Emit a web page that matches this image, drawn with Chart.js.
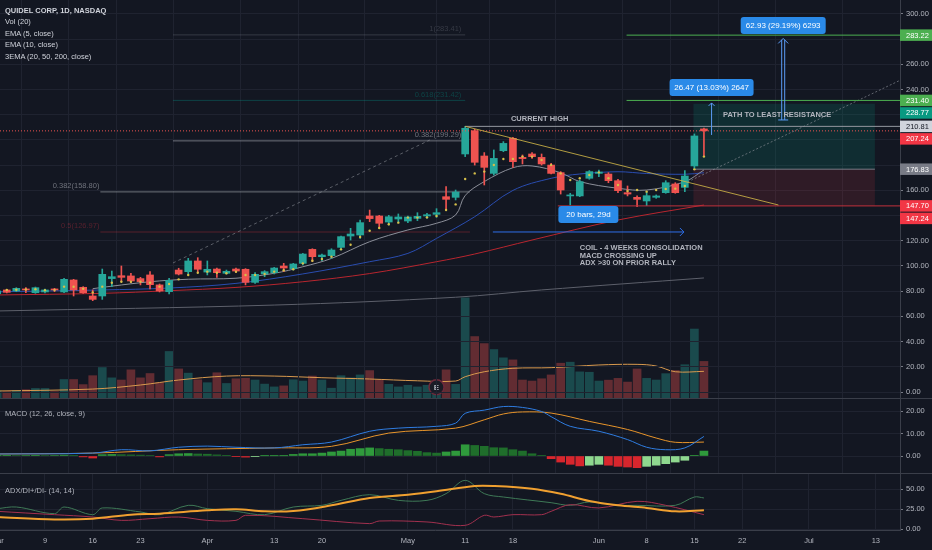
<!DOCTYPE html>
<html>
<head>
<meta charset="utf-8">
<script src="https://cdn.jsdelivr.net/npm/chart.js@4.4.1/dist/chart.umd.min.js"></script>
<style>
  html, body { margin: 0; padding: 0; background: #131722; overflow: hidden; }
  #wrap { position: relative; width: 932px; height: 550px; overflow: hidden; background: #131722; }
  canvas { position: absolute; left: -30px; }
  .sep { position: absolute; left: 0; width: 932px; height: 1px; background: #3a3e49; }
  .label { position: absolute; left: 5px; color: #b2b5be; font: 7.5px 'Liberation Sans', 'DejaVu Sans', sans-serif; line-height: 11.4px; white-space: nowrap; }
  .label.main { color: #d1d4dc; }
</style>
</head>
<body>
<div id="wrap">
  <canvas id="volChart" width="962" height="398" style="top:0"></canvas>
  <canvas id="priceChart" width="962" height="398" style="top:0"></canvas>
  <canvas id="macdChart" width="962" height="75" style="top:398px"></canvas>
  <canvas id="adxChart" width="962" height="77" style="top:473px"></canvas>
  <div class="sep" style="top:398px"></div>
  <div class="sep" style="top:473px"></div>
  <div class="label main" style="top:5px"><b>QUIDEL CORP, 1D, NASDAQ</b><br>Vol (20)<br>EMA (5, close)<br>EMA (10, close)<br>3EMA (20, 50, 200, close)</div>
  <div class="label" style="top:408px">MACD (12, 26, close, 9)</div>
  <div class="label" style="top:485px">ADX/DI+/DI- (14, 14)</div>
</div>
<script>
// Time axis (trading-day index -> label)
const tickIdx  = [0, 5, 10, 15, 22, 29, 34, 43, 49, 54, 63, 68, 73, 78, 85, 92];
const tickText = ["Mar", "9", "16", "23", "Apr", "13", "20", "May", "11", "18", "Jun", "8", "15", "22", "Jul", "13"];

// Daily candles, Mar 2 - Jun 16 2020
const openP = [78.0, 81.0, 80.2, 81.8, 78.8, 79.4, 81.8, 79.4, 88.9, 83.1,
  76.2, 76.2, 90.0, 92.3, 92.1, 90.0, 92.9, 85.0, 79.6, 96.8,
  95.5, 104.0, 95.2, 97.6, 94.2, 97.6, 97.4, 87.0, 93.7, 94.7,
  100.0, 97.9, 102.1, 113.2, 107.4, 108.2, 114.8, 123.8, 124.6, 139.7,
  139.7, 134.9, 137.3, 135.7, 137.8, 139.7, 141.0, 155.0, 154.5, 188.9,
  207.4, 187.3, 173.5, 191.5, 201.3, 186.2, 188.9, 186.2, 180.1, 174.1,
  155.6, 155.6, 169.6, 173.5, 173.0, 167.7, 158.2, 154.5, 151.6, 154.5,
  158.2, 165.1, 162.4, 179.4, 208.8];
const highP = [81.0, 81.5, 82.8, 82.8, 83.3, 81.7, 82.3, 90.2, 89.4, 83.6,
  81.0, 97.6, 96.0, 100.0, 94.2, 91.0, 95.5, 85.7, 90.2, 98.2,
  106.1, 106.6, 104.0, 98.4, 96.8, 98.4, 97.9, 94.7, 96.3, 98.9,
  102.1, 102.1, 110.0, 113.7, 109.5, 113.7, 123.8, 129.9, 136.5, 144.4,
  140.2, 140.2, 141.3, 139.7, 142.3, 141.8, 145.5, 163.0, 160.3, 210.81,
  208.5, 190.0, 192.1, 198.7, 202.1, 188.1, 190.0, 188.9, 181.5, 174.9,
  157.7, 168.2, 175.7, 176.2, 174.1, 168.8, 163.5, 155.6, 159.0, 156.4,
  167.7, 166.1, 175.7, 204.8, 209.5];
const lowP = [77.0, 78.6, 79.6, 78.8, 78.3, 78.6, 79.6, 78.8, 76.2, 78.3,
  72.5, 73.5, 83.6, 87.6, 86.8, 85.0, 81.8, 79.4, 77.8, 92.9,
  92.9, 94.7, 92.9, 91.0, 93.6, 94.7, 85.0, 86.2, 91.5, 93.7,
  95.5, 96.8, 100.8, 103.4, 104.2, 106.1, 112.7, 120.6, 121.9, 135.2,
  129.9, 132.5, 134.4, 134.4, 136.0, 137.8, 138.6, 144.4, 152.4, 186.8,
  180.1, 164.3, 172.2, 190.7, 178.3, 181.0, 185.4, 180.1, 173.0, 157.1,
  148.4, 155.0, 168.8, 170.9, 166.1, 158.2, 155.6, 147.1, 147.9, 153.7,
  157.7, 157.7, 159.0, 177.5, 186.8];
const closeP = [80.2, 79.1, 82.3, 81.0, 82.8, 81.0, 81.0, 89.4, 81.0, 78.8,
  73.5, 93.4, 91.5, 91.0, 88.1, 87.6, 85.2, 80.2, 88.6, 93.6,
  104.0, 97.4, 97.4, 94.7, 95.8, 96.0, 87.0, 93.4, 95.5, 98.4,
  98.4, 101.6, 109.5, 107.4, 108.7, 112.7, 123.3, 125.4, 134.4, 137.6,
  133.9, 139.1, 138.9, 138.9, 139.4, 140.7, 142.3, 152.9, 158.7, 209.3,
  182.3, 178.3, 185.4, 197.3, 182.8, 185.2, 186.8, 181.0, 173.5, 160.3,
  156.4, 166.9, 174.9, 174.6, 167.7, 159.8, 157.1, 152.9, 155.8, 155.6,
  166.1, 158.2, 171.4, 203.2, 207.24];

// Volume (scale units as drawn) and its 20-day average
const volume = [2, 1.5, 2.5, 3, 4, 4, 1.5, 11, 11, 7,
  14, 20.4, 12.3, 10.6, 18.6, 12.3, 15.7, 8.5, 33, 19.3,
  16, 10.8, 8.5, 16.3, 7.9, 11.6, 12, 10.6, 7.4, 5.2,
  6, 10.8, 9.8, 13.7, 10.6, 4.2, 14, 12.3, 14.6, 18,
  10.8, 7.2, 5.2, 6.5, 5.2, 6.5, 7.8, 18.6, 7.2, 75,
  44.7, 39.2, 34.5, 28, 26.4, 10.6, 9.8, 11.6, 14.6, 23.8,
  24.6, 17, 16.7, 9.8, 10.5, 11.9, 9, 19.3, 11.9, 10.6,
  15.6, 18.1, 22.6, 50.6, 25.2];
const volMA = [[0, 2], [10, 3.5], [15, 6.7], [19, 10.6], [24, 13.7], [29, 13.7], [34, 12.4],
  [39, 11.4], [44, 10], [48, 9.8], [49, 13.2], [51, 17.1], [54, 19.8], [58, 20.3],
  [63, 22.4], [67, 22.9], [69, 21.6], [71, 17.1], [74, 17.4]];

// Moving averages
const ema5 = [80, 81, 81.2, 81.3, 81.5, 80.8, 81.0, 83.6, 83.5, 82,
  79, 83.6, 86.7, 87.5, 87.5, 87.5, 86.7, 83.6, 85.7, 89.4,
  92.9, 94.7, 95.5, 94.7, 94.2, 95.5, 92.9, 92.8, 93.7, 95.5,
  96.6, 97.4, 102.1, 104.2, 105.5, 107.4, 113.2, 116.9, 123.0, 128.0,
  130.2, 133.1, 134.4, 138.4, 138.4, 138.6, 139.7, 144.4, 148.9, 169.0,
  173.5, 174.9, 180.1, 184.9, 184.9, 186.8, 186.8, 184.1, 180.1, 173.5,
  168.3, 169.6, 172.2, 174.3, 169.6, 164.3, 159.5, 160.3, 159.0, 160.3,
  161.1, 161.4, 163.5, 176.7, 186.8];
const ema10 = [[10, 82], [12, 84], [16, 87.5], [20, 89.5], [25, 90.3], [29, 94.2], [32, 99.4],
  [35, 106], [39, 119.3], [43, 128.6], [46, 133.9], [48, 140.5], [49, 156], [51, 167],
  [54, 178], [56, 179.4], [59, 174], [61, 167], [65, 161.7], [68, 160.3], [72, 166.9], [74, 176.2]];
const ema20 = [[0, 79.5], [11, 81], [18, 82.5], [25, 86.2], [32, 93.7], [39, 103.4], [43, 110],
  [46, 121.9], [50, 139.1], [54, 160], [58, 169.6], [61, 173], [65, 174.8], [68, 173.4],
  [72, 172.8], [74, 174]];
const ema50 = [[0, 77], [11, 78.3], [18, 80.4], [25, 83], [32, 87.5], [39, 94], [46, 103.4],
  [50, 109.5], [56, 120.6], [65, 136.5], [74, 148.4]];
const ema200 = [[0, 64.3], [29, 69], [48, 75.2], [57, 81], [74, 90.5]];

// MACD (12, 26, 9)
const macdLine = [[0, 0.9], [10, 1.3], [13, 2.8], [16, 2.3], [19, 3.9], [22, 4.4], [25, 3.9],
  [29, 3.6], [32, 5.0], [35, 6.2], [39, 11.0], [42, 12.4], [46, 13.2], [48, 14.6], [49, 19.0],
  [51, 20.4], [53, 22.0], [55, 21.6], [57, 19.8], [58, 17.5], [60, 13.2], [63, 11.0],
  [66, 7.3], [68, 3.9], [70, 2.8], [72, 3.6], [74, 8.7]];
const signalLine = [[0, 0.9], [10, 1.3], [19, 2.8], [29, 3.6], [35, 4.3], [41, 10.2], [48, 12.4],
  [51, 16.1], [53, 18.7], [55, 19.6], [58, 19.1], [62, 15.4], [66, 11.8], [69, 8.0],
  [71, 6.1], [74, 6.2]];
const macdHist = [0.3, 0.3, 0.2, 0.2, 0.3, 0.2, 0.2, 0.4, 0.3, -0.4,
  -0.9, 0.6, 0.7, 0.6, 0.5, 0.4, 0.2, -0.4, 0.6, 1.0,
  1.1, 0.9, 0.8, 0.5, 0.3, -0.3, -0.5, -0.3, 0.1, 0.1,
  0.1, 0.7, 1.0, 1.0, 1.3, 1.8, 2.2, 3.0, 3.3, 3.6,
  3.3, 3.0, 2.8, 2.4, 2.1, 1.5, 1.3, 1.8, 2.2, 5.0,
  4.7, 4.3, 3.7, 3.6, 2.8, 2.2, 1.0, 0.3, -1.2, -2.7,
  -3.7, -4.4, -4.1, -3.7, -4.1, -4.6, -4.9, -5.2, -4.6, -4.1,
  -3.4, -2.7, -1.9, 0.3, 2.2];

// ADX / DI+ / DI- (14, 14)
const adx = [[0, 15], [6, 12], [10, 12.9], [14, 17.9], [17, 19.2], [22, 23.3], [25, 24.6],
  [28, 22.1], [31, 22.5], [35, 29.6], [39, 38.8], [43, 42.9], [46, 47.1], [50, 53.8],
  [52, 53.8], [56, 50.4], [59, 44], [62, 35], [65, 29.6], [68, 26.3], [71, 22.1], [74, 23.3]];
const diPlus = [[0, 25.4], [2, 27.5], [6, 19.2], [7, 27.5], [10, 17.9], [11, 26.3], [15, 21.3],
  [17, 17.9], [20, 29.6], [22, 25.4], [25, 22.1], [28, 17.9], [31, 27.5], [34, 29.6],
  [36, 35.8], [39, 42.9], [42, 35.8], [45, 35.8], [47, 44.2], [49, 60.8], [51, 44.2],
  [53, 40], [58, 32.9], [60, 29.6], [62, 33.8], [65, 29.6], [67, 29.6], [71, 29.6],
  [73, 40], [74, 38.8]];
const diMinus = [[0, 22.1], [6, 17.9], [10, 15], [13, 10.8], [16, 12.9], [19, 15], [22, 10.8],
  [25, 10.8], [26, 17.1], [32, 12.9], [39, 6.7], [40, 10], [45, 8.8], [49, 4.6], [51, 17.1],
  [52, 15], [54, 17.9], [57, 17.9], [58, 22.1], [60, 30.4], [63, 26.3], [67, 34.6],
  [70, 29.6], [74, 17.9]];

// Price tags on the right axis: value, background, text colour
const priceTags = [
  [283.22, "#4caf50", "#ffffff"],
  [231.40, "#4caf50", "#ffffff"],
  [228.77, "#089981", "#ffffff"],
  [210.81, "#d1d4dc", "#131722"],
  [207.24, "#f23645", "#ffffff"],
  [176.83, "#787b86", "#ffffff"],
  [147.70, "#f23645", "#ffffff"],
  [147.24, "#f23645", "#ffffff"],
];

// Drawings (index, price)
const longPos = { from: 72.9, to: 91.9, entry: 176.83, target: 228.77, stop: 147.70 };
const highLevel = { from: 49, price: 210.81 };
const lastClose = 207.24;
const targetLines = { from: 65.9, prices: [283.22, 231.40] };
const stopLine = { from: 58.7, price: 147.70 };
const trendLine = [[49, 210.81], [81.8, 148.4]];
const fibDiag = [[18.4, 102.4], [45.3, 200]];
const projLine = [[72.3, 166.7], [94.6, 247.6]];
const fibRight = [
  [283.41, "1(283.41)", "rgba(120,123,134,0.35)"],
  [231.42, "0.618(231.42)", "rgba(0,150,136,0.35)"],
  [199.29, "0.382(199.29)", "rgba(150,153,161,0.7)"],
];
const fibLeft = [
  [158.80, "0.382(158.80)", "rgba(150,153,161,0.7)"],
  [126.97, "0.5(126.97)", "rgba(242,54,69,0.3)"],
];

// ---------------------------------------------------------------
const UP = "#26a69a", DOWN = "#ef5350";
const GRID = "#1f2330";
const AXIS_TEXT = "#b2b5be";
const FONT = "'Liberation Sans', 'DejaVu Sans', sans-serif";
Chart.defaults.font.family = FONT;
Chart.defaults.font.size = 7.5;

const X_MIN = -2.85, X_MAX = 94.53;
const PRICE_MIN = -4.76, PRICE_MAX = 311.1, PRICE_H = 398;

const isUp = i => closeP[i] >= openP[i];

// stack the right-axis tags so they don't overlap, hide ticks behind them
const TAG_H = 12.5;
const tagUnits = TAG_H * (PRICE_MAX - PRICE_MIN) / PRICE_H;
const tagPos = [];
priceTags.forEach((t, k) => {
  let v = t[0];
  if (k > 0 && tagPos[k - 1] - v < tagUnits) v = tagPos[k - 1] - tagUnits;
  tagPos.push(v);
});
const tickHidden = v => tagPos.some(p => Math.abs(p - v) < tagUnits * 0.68);

function xScale(showLabels) {
  return {
    type: "linear",
    min: X_MIN,
    max: X_MAX,
    offset: false,
    grid: { color: GRID, drawTicks: false },
    border: { display: showLabels, color: "#3a3e49" },
    afterBuildTicks: s => { s.ticks = tickIdx.map(v => ({ value: v })); },
    ticks: {
      display: showLabels,
      autoSkip: false,
      maxRotation: 0,
      color: AXIS_TEXT,
      padding: 6,
      callback: v => tickText[tickIdx.indexOf(v)],
    },
    afterFit: s => {
      s.height = showLabels ? 20 : 0;
      s.paddingLeft = 0;
      s.paddingRight = 0;
    },
  };
}

function yScale(min, max, step, fmt) {
  return {
    position: "right",
    min: min,
    max: max,
    grid: { color: GRID, tickLength: 3, tickColor: "#787b86" },
    border: { color: "#3a3e49" },
    ticks: {
      stepSize: step,
      includeBounds: false,
      color: AXIS_TEXT,
      padding: 3,
      callback: fmt || (v => v.toFixed(2)),
    },
    afterFit: s => {
      s.width = 32;
      // the pane edges are the value edges, no label overhang
      s.paddingTop = 0;
      s.paddingBottom = 0;
    },
  };
}

const pairs = arr => arr.map(([x, y]) => ({ x, y }));
const baseOptions = {
  responsive: false,
  animation: false,
  events: [],
  layout: { autoPadding: false },
  plugins: { legend: { display: false }, tooltip: { enabled: false } },
};

function lineDs(arr, color, width, order) {
  return {
    type: "line",
    data: pairs(arr),
    borderColor: color,
    borderWidth: width,
    pointRadius: 0,
    tension: 0.35,
    order: order,
  };
}

// ---- helpers for drawings ----
function arrowHead(ctx, x, y, dir, size) {
  ctx.beginPath();
  if (dir === "up") {
    ctx.moveTo(x - size, y + size); ctx.lineTo(x, y); ctx.lineTo(x + size, y + size);
  } else {
    ctx.moveTo(x - size, y - size); ctx.lineTo(x, y); ctx.lineTo(x - size, y + size);
  }
  ctx.stroke();
}

function blueBox(ctx, cx, cy, w, text) {
  const h = 17;
  ctx.fillStyle = "#2a8ae8";
  ctx.beginPath();
  ctx.roundRect(cx - w / 2, cy - h / 2, w, h, 3);
  ctx.fill();
  ctx.fillStyle = "#ffffff";
  ctx.font = "8px " + FONT;
  ctx.textAlign = "center";
  ctx.textBaseline = "middle";
  ctx.fillText(text, cx, cy + 0.5);
}

const drawings = {
  id: "drawings",
  beforeDatasetsDraw(chart) {
    const ctx = chart.ctx, a = chart.chartArea;
    const X = v => chart.scales.x.getPixelForValue(v);
    const Y = v => chart.scales.y.getPixelForValue(v);
    ctx.save();
    ctx.beginPath(); ctx.rect(a.left, a.top, a.width, a.height); ctx.clip();

    // long position zones
    const x0 = X(longPos.from), x1 = X(longPos.to);
    ctx.fillStyle = "rgba(8,153,129,0.17)";
    ctx.fillRect(x0, Y(longPos.target), x1 - x0, Y(longPos.entry) - Y(longPos.target));
    ctx.fillStyle = "rgba(242,54,69,0.13)";
    ctx.fillRect(x0, Y(longPos.entry), x1 - x0, Y(longPos.stop) - Y(longPos.entry));
    ctx.strokeStyle = "#787b86"; ctx.lineWidth = 1;
    ctx.beginPath(); ctx.moveTo(x0, Y(longPos.entry)); ctx.lineTo(x1, Y(longPos.entry)); ctx.stroke();

    // fib levels
    ctx.font = "7.5px " + FONT;
    ctx.textBaseline = "bottom";
    fibRight.forEach(([p, label, col]) => {
      ctx.strokeStyle = col;
      ctx.beginPath(); ctx.moveTo(X(18.4), Y(p)); ctx.lineTo(X(49), Y(p)); ctx.stroke();
      ctx.fillStyle = col; ctx.textAlign = "right";
      ctx.fillText(label, X(48.6), Y(p) - 2);
    });
    fibLeft.forEach(([p, label, col]) => {
      ctx.strokeStyle = col;
      ctx.beginPath(); ctx.moveTo(X(10.8), Y(p)); ctx.lineTo(X(49.5), Y(p)); ctx.stroke();
      ctx.fillStyle = col; ctx.textAlign = "right";
      ctx.fillText(label, X(10.7), Y(p) - 2);
    });
    ctx.setLineDash([3, 3]);
    ctx.strokeStyle = "rgba(150,153,161,0.55)";
    ctx.beginPath(); ctx.moveTo(X(fibDiag[0][0]), Y(fibDiag[0][1])); ctx.lineTo(X(fibDiag[1][0]), Y(fibDiag[1][1])); ctx.stroke();
    ctx.setLineDash([]);
    ctx.restore();
  },
  afterDatasetsDraw(chart) {
    const ctx = chart.ctx, a = chart.chartArea;
    const X = v => chart.scales.x.getPixelForValue(v);
    const Y = v => chart.scales.y.getPixelForValue(v);
    ctx.save();
    ctx.beginPath(); ctx.rect(a.left, a.top, a.width, a.height); ctx.clip();
    ctx.lineWidth = 1;

    // last price line (dotted)
    ctx.setLineDash([1, 2]);
    ctx.strokeStyle = "#ef5350";
    ctx.beginPath(); ctx.moveTo(a.left, Y(lastClose)); ctx.lineTo(a.right, Y(lastClose)); ctx.stroke();
    // projection
    ctx.setLineDash([2, 2]);
    ctx.strokeStyle = "rgba(150,153,161,0.6)";
    ctx.beginPath(); ctx.moveTo(X(projLine[0][0]), Y(projLine[0][1])); ctx.lineTo(X(projLine[1][0]), Y(projLine[1][1])); ctx.stroke();
    ctx.setLineDash([]);

    // current high
    ctx.strokeStyle = "#9598a1";
    ctx.beginPath(); ctx.moveTo(X(highLevel.from), Y(highLevel.price)); ctx.lineTo(a.right, Y(highLevel.price)); ctx.stroke();
    // targets
    ctx.strokeStyle = "#4caf50";
    targetLines.prices.forEach(p => {
      ctx.beginPath(); ctx.moveTo(X(targetLines.from), Y(p)); ctx.lineTo(a.right, Y(p)); ctx.stroke();
    });
    // stop
    ctx.strokeStyle = "#c2303c";
    ctx.beginPath(); ctx.moveTo(X(stopLine.from), Y(stopLine.price)); ctx.lineTo(a.right, Y(stopLine.price)); ctx.stroke();
    // descending trend line
    ctx.strokeStyle = "rgba(206,180,70,0.85)";
    ctx.beginPath(); ctx.moveTo(X(trendLine[0][0]), Y(trendLine[0][1])); ctx.lineTo(X(trendLine[1][0]), Y(trendLine[1][1])); ctx.stroke();

    // measurement arrows
    ctx.strokeStyle = "#5b9cf6";
    let ax = X(74.8);
    ctx.beginPath(); ctx.moveTo(ax, Y(204)); ctx.lineTo(ax, Y(229.4)); ctx.stroke();
    arrowHead(ctx, ax, Y(229.4), "up", 3);
    ax = X(82.3);
    ctx.lineWidth = 1;
    ctx.beginPath();
    ctx.moveTo(ax - 1.5, Y(215.9)); ctx.lineTo(ax - 1.5, Y(279.4));
    ctx.moveTo(ax + 1.5, Y(215.9)); ctx.lineTo(ax + 1.5, Y(279.4));
    ctx.moveTo(ax - 5, Y(215.9)); ctx.lineTo(ax + 5, Y(215.9));
    ctx.stroke();
    arrowHead(ctx, ax, Y(280.6), "up", 5);
    // bars range arrow
    ctx.strokeStyle = "#2f6fe8";
    ctx.beginPath(); ctx.moveTo(X(51.9), Y(127)); ctx.lineTo(X(71.9), Y(127)); ctx.stroke();
    arrowHead(ctx, X(71.9), Y(127), "right", 4);

    blueBox(ctx, X(74.8), Y(241.7), 84, "26.47 (13.03%) 2647");
    blueBox(ctx, X(82.3), Y(290.9), 85, "62.93 (29.19%) 6293");
    blueBox(ctx, X(61.9), Y(140.9), 60, "20 bars, 29d");

    // notes
    ctx.fillStyle = "#b2b5be";
    ctx.font = "bold 7.5px " + FONT;
    ctx.textBaseline = "middle";
    ctx.textAlign = "center";
    ctx.fillText("CURRENT HIGH", X(56.8), Y(216.7));
    ctx.textAlign = "left";
    ctx.fillText("PATH TO LEAST RESISTANCE", X(76.0), Y(219.8));
    ctx.fillText("COIL - 4 WEEKS CONSOLIDATION", X(61.0), Y(114.3));
    ctx.fillText("MACD CROSSING UP", X(61.0), Y(108.1));
    ctx.fillText("ADX >30 ON PRIOR RALLY", X(61.0), Y(102.2));
    ctx.restore();
  },
  afterDraw(chart) {
    const ctx = chart.ctx, a = chart.chartArea;
    const Y = v => chart.scales.y.getPixelForValue(v);
    ctx.save();
    ctx.font = "7.5px " + FONT;
    ctx.textBaseline = "middle";
    ctx.textAlign = "left";
    priceTags.forEach((t, k) => {
      const y = Y(tagPos[k]);
      ctx.fillStyle = t[1];
      ctx.fillRect(a.right, y - TAG_H / 2 + 0.5, chart.width - a.right, TAG_H - 1);
      ctx.fillStyle = t[2];
      ctx.fillText(t[0].toFixed(2), a.right + 6, y + 0.5);
    });
    ctx.restore();
  },
};

const earnings = {
  id: "earnings",
  afterDatasetsDraw(chart) {
    const ctx = chart.ctx;
    const cx = chart.scales.x.getPixelForValue(46), cy = chart.scales.y.getPixelForValue(5);
    ctx.save();
    ctx.beginPath(); ctx.arc(cx, cy, 7.5, 0, Math.PI * 2);
    ctx.fillStyle = "#1a1c26"; ctx.fill();
    ctx.strokeStyle = "#6e2a3b"; ctx.lineWidth = 1.5; ctx.stroke();
    ctx.fillStyle = "#b2b5be";
    ctx.font = "bold 8px " + FONT;
    ctx.textAlign = "center"; ctx.textBaseline = "middle";
    ctx.fillText("E", cx, cy + 0.5);
    ctx.restore();
  },
};

document.addEventListener("DOMContentLoaded", function () {
  const idx = openP.map((_, i) => i);
  const candleColor = idx.map(i => (isUp(i) ? UP : DOWN));

  // Volume pane (under the price canvas)
  new Chart(document.getElementById("volChart"), {
    type: "bar",
    data: {
      datasets: [
        lineDs(volMA, "#d99a4e", 1, 0),
        {
          data: idx.map(i => ({ x: i, y: volume[i] })),
          base: -3.5,
          backgroundColor: idx.map(i => (isUp(i) ? "rgba(38,166,154,0.36)" : "rgba(239,83,80,0.36)")),
          barThickness: 8,
          grouped: false,
          order: 1,
        },
      ],
    },
    options: {
      ...baseOptions,
      layout: { autoPadding: false, padding: { right: 32 } },
      scales: {
        x: { ...xScale(false), display: false },
        y: { display: false, min: -3.5, max: 308.7 },
      },
    },
    plugins: [earnings],
  });

  // Price pane
  new Chart(document.getElementById("priceChart"), {
    type: "bar",
    data: {
      datasets: [
        {
          type: "line",
          data: ema5.map((y, i) => ({ x: i, y })),
          showLine: false,
          pointRadius: 1.2,
          pointBorderWidth: 0,
          pointBackgroundColor: "#d6c04a",
          order: 0,
        },
        {
          data: idx.map(i => ({ x: i, y: [openP[i], closeP[i]] })),
          backgroundColor: candleColor,
          barThickness: 7,
          minBarLength: 1,
          grouped: false,
          order: 1,
        },
        {
          data: idx.map(i => ({ x: i, y: [lowP[i], highP[i]] })),
          backgroundColor: candleColor,
          barThickness: 1,
          grouped: false,
          order: 2,
        },
        lineDs(ema10, "#8c8f99", 1, 3),
        lineDs(ema20, "#2a4db0", 1, 3),
        lineDs(ema50, "#b8262f", 1, 3),
        lineDs(ema200, "#5d606b", 1, 3),
      ],
    },
    options: {
      ...baseOptions,
      scales: {
        x: xScale(false),
        y: yScale(PRICE_MIN, PRICE_MAX, 20, v => (tickHidden(v) ? "" : v.toFixed(2))),
      },
    },
    plugins: [drawings],
  });

  // MACD pane
  const histColor = macdHist.map((v, i) => {
    const prev = i > 0 ? macdHist[i - 1] : 0;
    if (v >= 0) return v >= prev ? "#2f9a3c" : "#1f6e2b";
    return v < prev ? "#d8262d" : "#8fd88f";
  });
  new Chart(document.getElementById("macdChart"), {
    type: "bar",
    data: {
      datasets: [
        lineDs(macdLine, "#2f7de1", 1, 0),
        lineDs(signalLine, "#e8952b", 1, 0),
        {
          data: macdHist.map((y, i) => ({ x: i, y })),
          backgroundColor: histColor,
          barThickness: 8,
          grouped: false,
          order: 1,
        },
      ],
    },
    options: {
      ...baseOptions,
      scales: { x: xScale(false), y: yScale(-7.56, 25.8, 10) },
    },
  });

  // ADX pane with the time axis
  new Chart(document.getElementById("adxChart"), {
    type: "line",
    data: {
      datasets: [
        lineDs(diMinus, "#a3314f", 1, 2),
        lineDs(diPlus, "#3f7a57", 1, 2),
        lineDs(adx, "#f0a030", 2, 1),
      ],
    },
    options: {
      ...baseOptions,
      scales: { x: xScale(true), y: yScale(-1.25, 70, 25) },
    },
  });
});
</script>
</body>
</html>
